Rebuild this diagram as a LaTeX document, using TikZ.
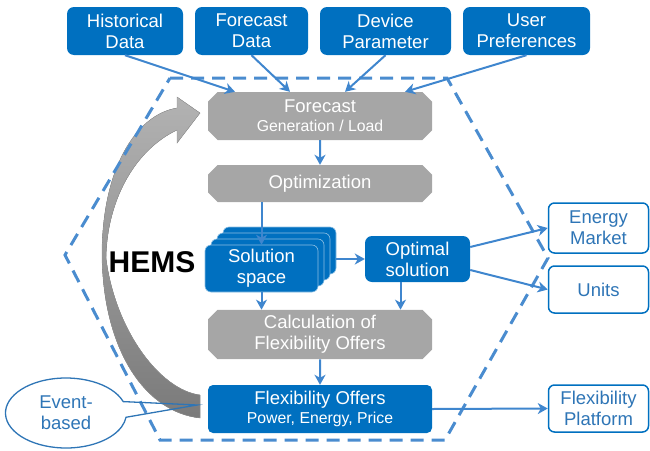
\documentclass[tikz,border=0pt]{standalone}
\usepackage{fontspec}
\setmainfont{Liberation Sans}
\usetikzlibrary{arrows.meta,calc,shapes.misc,shapes.callouts}

\definecolor{boxblue}{HTML}{0070C0}
\definecolor{linkblue}{HTML}{3F86CE}
\definecolor{hexblue}{HTML}{4A8CCF}
\definecolor{txtblue}{HTML}{2E75B6}
\definecolor{boxgray}{HTML}{A6A6A6}

\newcommand{\bigfont}{\fontsize{18.5}{21}\selectfont}
\newcommand{\smallfont}{\fontsize{15.8}{18}\selectfont}

\begin{document}
\begin{tikzpicture}[x=1pt, y=-1pt,
    inbox/.style={rectangle, rounded corners=7pt, fill=boxblue, text=white,
        align=center, font=\bigfont, minimum height=48pt, inner sep=2pt},
    graybox/.style={chamfered rectangle, chamfered rectangle xsep=6pt,
        fill=boxgray, text=white, align=center, font=\bigfont,
        minimum width=224pt, inner sep=2pt},
    outbox/.style={rectangle, rounded corners=6pt, draw=boxblue, line width=1.5pt,
        fill=white, text=txtblue, align=center, font=\bigfont,
        minimum width=100pt, inner sep=2pt},
    stackbox/.style={rectangle, rounded corners=6pt, fill=boxblue,
        draw=white!55!boxblue, line width=0.6pt,
        minimum width=113pt, minimum height=47pt},
    link/.style={draw=linkblue, line width=2pt,
        -{Stealth[length=10pt,width=11pt,inset=3pt]}},
    hexline/.style={draw=hexblue, line width=3pt, dash pattern=on 13pt off 8pt},
]
\useasboundingbox (0,0) rectangle (650,450);

% loop arrow behind the HEMS box
\fill[top color=black!30, bottom color=black!52, draw=black!40, line width=0.4pt]
    (200,113) -- (177,143) -- (177,130)
    .. controls (135,150) and (107,200) .. (106,258)
    .. controls (115,330) and (160,390) .. (200,395) -- (200,418)
    .. controls (145,412) and (103,350) .. (102,255)
    .. controls (102,170) and (135,115) .. (177,108) -- (177,97) -- cycle;

% HEMS border
\draw[hexline] (170,78) -- (447,78) -- (548,258) -- (445,440)
    -- (160,440) -- (65,255) -- cycle;

% inputs
\node[inbox, minimum width=116pt] (hist) at (125,31) {Historical\\Data};
\node[inbox, minimum width=113pt] (fcdata) at (251.5,31) {Forecast\\Data};
\node[inbox, minimum width=131pt] (devpar) at (385.5,31) {Device\\Parameter};
\node[inbox, minimum width=127pt] (userpref) at (526.5,31) {User\\Preferences};

% HEMS steps
\node[graybox, minimum height=48pt] (forecast) at (320,116)
    {Forecast\\[-2pt]{\smallfont Generation / Load}};
\node[graybox, minimum height=37pt] (optim) at (320,183.5) {Optimization};
\foreach \k in {3,2,1}
    \node[stackbox] (sol\k) at (261.5+6*\k, 268.5-6*\k) {};
\node[stackbox, text=white, align=center, font=\bigfont] (sol) at (261.5,268.5)
    {Solution\\space};
\node[inbox, minimum width=105pt, minimum height=46pt] (optimal) at (417.5,259)
    {Optimal\\solution};
\node[graybox, minimum height=45pt] (calc) at (320,334.5)
    {Calculation of\\Flexibility Offers};
\node[inbox, minimum width=224pt, rounded corners=5pt] (offers) at (320,409)
    {Flexibility Offers\\[-2pt]{\smallfont Power, Energy, Price}};

\node[font=\fontsize{30}{31}\selectfont\bfseries] (hems) at (152,262) {HEMS};

% outputs
\node[outbox, minimum height=50pt] (market) at (598.5,228) {Energy\\Market};
\node[outbox, minimum height=47pt] (units) at (598.5,289.5) {Units};
\node[outbox, minimum height=47pt] (platform) at (598.5,408.5) {Flexibility\\Platform};

% trigger
\coordinate (evtip) at (197,405);
\node[ellipse callout, draw=txtblue, line width=1.3pt, text=txtblue, align=center,
    font=\bigfont, minimum width=121pt, minimum height=70pt, inner sep=0pt,
    callout absolute pointer={(evtip)}, callout pointer arc=26] (event) at (66,413)
    {Event-\\based};

% connections
\draw[link] (hist.south) -- ($(forecast.north)+(-85,0)$);
\draw[link] (fcdata.south) -- ($(forecast.north)+(-30,0)$);
\draw[link] (devpar.south) -- ($(forecast.north)+(25,0)$);
\draw[link] (userpref.south) -- ($(forecast.north)+(85,0)$);
\draw[link] (forecast) -- (optim);
\draw[link] (sol.north |- optim.south) -- (sol.north);
\draw[link] (sol3.east |- optimal.west) -- (optimal.west);
\draw[link] (sol.south) -- (sol.south |- calc.north);
\draw[link] ([xshift=-17pt]optimal.south) -- ([xshift=-17pt]optimal.south |- calc.north);
\draw[link] ($(optimal.east)+(0,-12)$) -- (market.west);
\draw[link] ($(optimal.east)+(0,11)$) -- (units.west);
\draw[link] (calc) -- (offers);
\draw[link] (offers.east) -- (platform.west);
\end{tikzpicture}
\end{document}
